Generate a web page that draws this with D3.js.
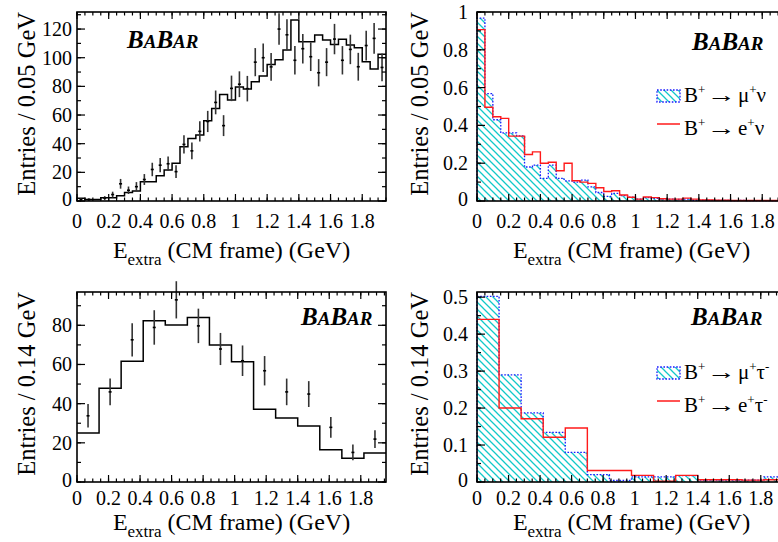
<!DOCTYPE html>
<html><head><meta charset="utf-8">
<script src="https://cdn.jsdelivr.net/npm/d3@7"></script>
<style>
body{margin:0;background:#fff}
svg{display:block}
text{font-family:"Liberation Serif","Times New Roman",serif;fill:#000}
</style>
</head><body><svg id="c" width="778" height="542"></svg>
<script>
// ---------------- data ----------------
const xTickValues = [0,0.2,0.4,0.6,0.8,1,1.2,1.4,1.6,1.8];
const xTickLabels = ["0","0.2","0.4","0.6","0.8","1","1.2","1.4","1.6","1.8"];

// top-left: data vs MC, 0.05 GeV bins
const tlBinWidth = 0.05;
const tlMC   = [2,1,1,2.3,2.3,3.7,6,7,13.5,13.5,17.7,21.6,26.3,37.9,43.7,46,56,64.5,74.3,70.5,79.5,78.2,83.3,87.3,95.2,98.6,105.3,126.3,111.2,111.2,115.8,112.4,109.3,112.8,108.9,107,97.2,92.1,102.4];
const tlData = [1,1,0,2,4.5,12,7.5,10,15,22,25,26,20.5,39.5,35,48.6,55.5,68.8,52.6,78.6,81.5,78.4,96.9,100,93.6,120,116,98.2,106.3,100.7,89.5,96.9,113,98.2,105.8,93.7,108.5,113.5,93.2];
const tlErr  = [1,1,0,1.4,2,3.4,2.6,3.2,3.8,4.7,5,5.1,4.5,6.3,5.9,7,7.4,8.3,7.3,8.9,9,8.9,9.8,10,9.7,11,10.8,9.9,10.3,10,9.5,9.8,10.6,9.9,10.3,9.7,10.4,10.7,9.7];
const tlYTicks = [0,20,40,60,80,100,120];
const tlYLabels = ["0","20","40","60","80","100","120"];

// top-right: signal MC shapes, 0.05 GeV bins
const trBinWidth = 0.05;
const trMu = [0.968,0.568,0.43,0.36,0.36,0.345,0.18,0.19,0.12,0.19,0.12,0.107,0.1,0.11,0.075,0.045,0.025,0.04,0.028,0.02,0.01,0.018,0.014,0.01,0.01,0.008,0.01,0.004,0.004,0.003,0.003,0.003,0.002,0.003,0.002,0.002,0.002,0.002,0.002];
const trE  = [0.907,0.496,0.446,0.437,0.343,0.343,0.246,0.26,0.2,0.205,0.16,0.2,0.107,0.1,0.093,0.07,0.05,0.054,0.032,0.02,0.01,0.021,0.018,0.012,0.01,0.01,0.015,0.01,0.005,0.005,0.004,0.004,0.003,0.003,0.003,0.003,0.003,0.003,0.003];
const trYTicks = [0,0.2,0.4,0.6,0.8,1];
const trYLabels = ["0","0.2","0.4","0.6","0.8","1"];
const trLegend = [["μ","ν",""],["e","ν",""]];

// bottom-left: data vs MC, 0.14 GeV bins
const blBinWidth = 0.14;
const blMC   = [25,47.8,61.7,82.3,80.1,84,70,61.4,37.2,32.7,28.6,16.5,12.1,14.8];
const blData = [33.8,46,72.6,78.9,93,79.7,67.9,61.9,56.8,46,44.9,27.9,15.1,21.9];
const blErr  = [6,6.8,8.5,8.8,9.5,8.8,8.2,7.8,7.5,6.8,6.6,5.3,4,4.5];
const blYTicks = [0,20,40,60,80];
const blYLabels = ["0","20","40","60","80"];

// bottom-right: signal MC shapes, 0.14 GeV bins
const brBinWidth = 0.14;
const brMu = [0.502,0.29,0.187,0.134,0.08,0.02,0.004,0.014,0.014,0.017,0.005,0.005,0.005,0.014];
const brE  = [0.44,0.2,0.171,0.121,0.146,0.031,0.031,0.018,0.002,0.018,0.006,0.006,0.005,0.006];
const brYTicks = [0,0.1,0.2,0.3,0.4,0.5];
const brYLabels = ["0","0.1","0.2","0.3","0.4","0.5"];
const brLegend = [["μ","τ","-"],["e","τ","-"]];

// ---------------- drawing ----------------
const svg = d3.select("#c");
const defs = svg.append("defs");
const pat = defs.append("pattern").attr("id","hatch")
  .attr("patternUnits","userSpaceOnUse").attr("width",7).attr("height",7);
pat.append("path").attr("d","M0,0L7,7M-1,6L1,8M6,-1L8,1")
  .attr("stroke","#12c9c9").attr("stroke-width",1.3).attr("fill","none");

const BLUE = "#1a1aff";
const RED = "#ff1a1a";

function stepPoints(vals, bw){
  const pts = vals.map((v,i)=>[i*bw, v]);
  pts.push([vals.length*bw, vals[vals.length-1]]);
  return pts;
}

function panel(p){
  const g = svg.append("g");
  const x = d3.scaleLinear().domain([0,p.xmax]).range([p.x0, p.x0+p.w]);
  const y = d3.scaleLinear().domain([0,p.ymax]).range([p.y0+p.h, p.y0]);
  const bot = p.y0+p.h, top = p.y0, left = p.x0, right = p.x0+p.w;

  // histograms
  if(p.mu){
    const pts = stepPoints(p.mu, p.bw);
    const area = d3.area().x(d=>x(d[0])).y0(y(0)).y1(d=>y(d[1])).curve(d3.curveStepAfter);
    g.append("path").attr("d", area(pts)).attr("fill","url(#hatch)").attr("stroke","none");
    const line = d3.line().x(d=>x(d[0])).y(d=>y(d[1])).curve(d3.curveStepAfter);
    g.append("path").attr("d", line([[0,0]].concat(pts).concat([[p.mu.length*p.bw,0]])))
      .attr("fill","none").attr("stroke",BLUE).attr("stroke-width",1.3).attr("stroke-dasharray","1.6,1.6");
  }
  if(p.e){
    const pts = stepPoints(p.e, p.bw);
    const line = d3.line().x(d=>x(d[0])).y(d=>y(d[1])).curve(d3.curveStepAfter);
    g.append("path").attr("d", line(pts)).attr("fill","none").attr("stroke",RED).attr("stroke-width",1.4);
  }
  if(p.mc){
    const pts = stepPoints(p.mc, p.bw);
    const line = d3.line().x(d=>x(d[0])).y(d=>y(d[1])).curve(d3.curveStepAfter);
    g.append("path").attr("d", line(pts)).attr("fill","none").attr("stroke","#000").attr("stroke-width",1.5);
  }
  if(p.data){
    const pts = p.data.map((v,i)=>({c:(i+0.5)*p.bw, v, e:p.err[i]})).filter(d=>d.v>0);
    g.selectAll(null).data(pts).enter().append("line")
      .attr("x1",d=>x(d.c)).attr("x2",d=>x(d.c))
      .attr("y1",d=>y(d.v-d.e)).attr("y2",d=>y(d.v+d.e))
      .attr("stroke","#333").attr("stroke-width",1.6);
    g.selectAll(null).data(pts).enter().append("line")
      .attr("x1",d=>x(d.c)-1.5).attr("x2",d=>x(d.c)+1.5)
      .attr("y1",d=>y(d.v)).attr("y2",d=>y(d.v))
      .attr("stroke","#000").attr("stroke-width",1.6);
  }

  // frame
  g.append("rect").attr("x",left).attr("y",top).attr("width",p.w).attr("height",p.h)
    .attr("fill","none").attr("stroke","#000").attr("stroke-width",1.6);

  // x ticks (inward, bottom & top)
  const xMinor = d3.range(0, p.xmax+1e-9, 0.05);
  const xMajor = d3.range(0, p.xmax+1e-9, 0.2);
  const tk = g.append("g").attr("stroke","#000").attr("stroke-width",1.2);
  xMinor.forEach(v=>{
    const L = 3.5;
    tk.append("line").attr("x1",x(v)).attr("x2",x(v)).attr("y1",bot).attr("y2",bot-L);
    tk.append("line").attr("x1",x(v)).attr("x2",x(v)).attr("y1",top).attr("y2",top+L);
  });
  xMajor.forEach(v=>{
    const L = 7;
    tk.append("line").attr("x1",x(v)).attr("x2",x(v)).attr("y1",bot).attr("y2",bot-L);
    tk.append("line").attr("x1",x(v)).attr("x2",x(v)).attr("y1",top).attr("y2",top+L);
  });
  // y ticks (inward, left & right)
  const yMinor = d3.range(0, p.ymax+1e-9, p.yMinor);
  yMinor.forEach(v=>{
    const L = 4;
    tk.append("line").attr("x1",left).attr("x2",left+L).attr("y1",y(v)).attr("y2",y(v));
    tk.append("line").attr("x1",right).attr("x2",right-L).attr("y1",y(v)).attr("y2",y(v));
  });
  p.yTicks.forEach(v=>{
    const L = 8;
    tk.append("line").attr("x1",left).attr("x2",left+L).attr("y1",y(v)).attr("y2",y(v));
    tk.append("line").attr("x1",right).attr("x2",right-L).attr("y1",y(v)).attr("y2",y(v));
  });

  // x labels
  g.selectAll(null).data(xTickValues).enter().append("text")
    .attr("x",d=>x(d)).attr("y",bot+p.xlabOff).attr("text-anchor","middle")
    .attr("font-size",20).text((d,i)=>xTickLabels[i]);
  // y labels
  g.selectAll(null).data(p.yTicks).enter().append("text")
    .attr("x",left-p.ylabGap).attr("y",(d,i)=>y(d)+(i===0?5:7))
    .attr("text-anchor","end").attr("font-size",20).text((d,i)=>p.yLabels[i]);

  // x title
  const xt = g.append("text").attr("x",(left+right)/2).attr("y",bot+p.xtitOff)
    .attr("text-anchor","middle").attr("font-size",24);
  xt.append("tspan").text("E");
  xt.append("tspan").attr("font-size",17).attr("dy",7).text("extra");
  xt.append("tspan").attr("dy",-7).text(" (CM frame) (GeV)");

  // y title
  g.append("text").attr("transform",`translate(${p.ytitX},${top}) rotate(-90)`)
    .attr("text-anchor","end").attr("font-size",24.5).text(p.yTitle);

  // BaBar logo
  const lg = g.append("text").attr("x",p.logo[0]).attr("y",p.logo[1])
    .attr("font-weight","bold").attr("font-style","italic").attr("font-size",25);
  lg.append("tspan").text("B");
  lg.append("tspan").attr("font-size",19).text("A");
  lg.append("tspan").text("B");
  lg.append("tspan").attr("font-size",19).text("AR");

  // legend
  if(p.legend){
    const [lx, ly] = p.legendPos;
    g.append("rect").attr("x",lx).attr("y",ly-12).attr("width",23).attr("height",12)
      .attr("fill","url(#hatch)").attr("stroke",BLUE).attr("stroke-width",1.3).attr("stroke-dasharray","1.6,1.6");
    g.append("line").attr("x1",lx).attr("x2",lx+23).attr("y1",ly+p.legendGap-11).attr("y2",ly+p.legendGap-11)
      .attr("stroke",RED).attr("stroke-width",1.5);
    p.legend.forEach((item,k)=>{
      const by = ly + k*p.legendGap;
      const t1 = g.append("text").attr("x",lx+27).attr("y",by).attr("font-size",21);
      t1.append("tspan").text("B");
      t1.append("tspan").attr("font-size",13).attr("dy",-8).text("+");
      g.append("text").attr("x",lx+50).attr("y",by).attr("font-size",21)
        .attr("textLength",29).attr("lengthAdjust","spacingAndGlyphs").text("→");
      const t2 = g.append("text").attr("x",lx+81).attr("y",by).attr("font-size",21);
      t2.append("tspan").text(item[0]);
      t2.append("tspan").attr("font-size",13).attr("dy",-8).text("+");
      t2.append("tspan").attr("dy",8).text(item[1]);
      if(item[2]) t2.append("tspan").attr("font-size",13).attr("dy",-8).text(item[2]);
    });
  }
}

panel({x0:77,y0:12,w:309,h:189,xmax:1.95,ymax:131.9,bw:tlBinWidth,
  mc:tlMC,data:tlData,err:tlErr,yTicks:tlYTicks,yLabels:tlYLabels,yMinor:10,ylabGap:5,
  yTitle:"Entries / 0.05 GeV",ytitX:35,xlabOff:27,xtitOff:57,logo:[127,48]});
panel({x0:477,y0:12,w:309,h:189,xmax:1.95,ymax:1.0,bw:trBinWidth,
  mu:trMu,e:trE,yTicks:trYTicks,yLabels:trYLabels,yMinor:0.1,ylabGap:9,
  yTitle:"Entries / 0.05 GeV",ytitX:428,xlabOff:27,xtitOff:57,logo:[692,50],
  legend:trLegend,legendPos:[657,102],legendGap:33});
panel({x0:77,y0:292,w:309,h:190,xmax:1.96,ymax:97,bw:blBinWidth,
  mc:blMC,data:blData,err:blErr,yTicks:blYTicks,yLabels:blYLabels,yMinor:10,ylabGap:5,
  yTitle:"Entries / 0.14 GeV",ytitX:35,xlabOff:23,xtitOff:48,logo:[301,325]});
panel({x0:477,y0:292,w:309,h:190,xmax:1.96,ymax:0.514,bw:brBinWidth,
  mu:brMu,e:brE,yTicks:brYTicks,yLabels:brYLabels,yMinor:0.05,ylabGap:9,
  yTitle:"Entries / 0.14 GeV",ytitX:428,xlabOff:23,xtitOff:48,logo:[691,325],
  legend:brLegend,legendPos:[657,379],legendGap:33});
</script>
</body></html>
